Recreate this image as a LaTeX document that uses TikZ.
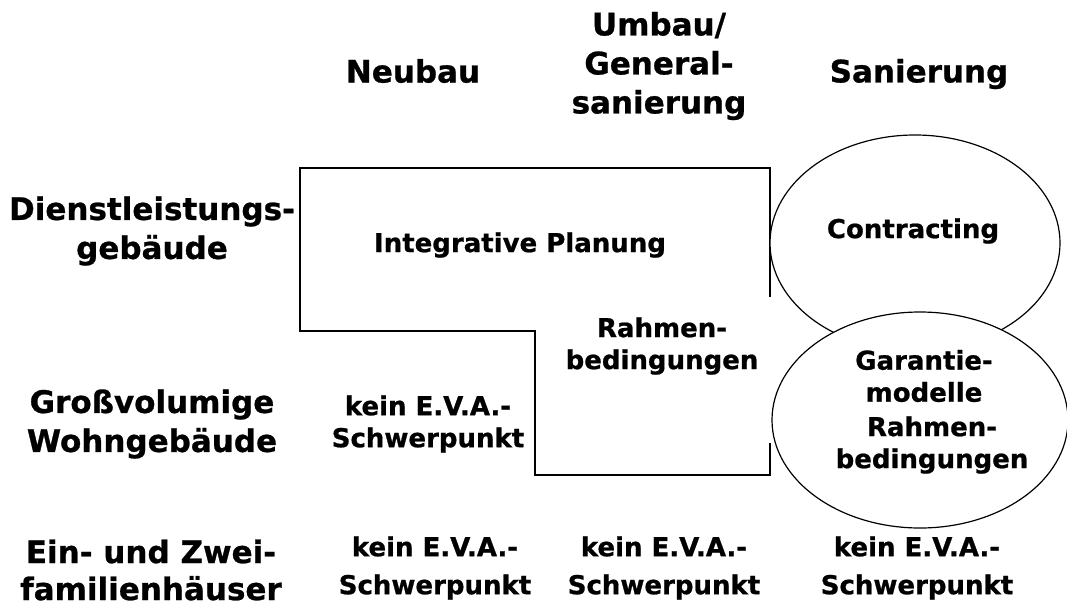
\documentclass[tikz,border=0pt]{standalone}
\usepackage{fontspec}
\setmainfont{DejaVu Sans}[BoldFeatures={FakeBold=0.8}]
\usetikzlibrary{shapes.geometric}
\begin{document}
\begin{tikzpicture}[x=1pt,y=-1pt,
  big/.style={font=\bfseries\fontsize{31}{39}\selectfont,align=center,inner sep=0pt},
  cell/.style={font=\bfseries\fontsize{26}{32}\selectfont,align=center,inner sep=0pt},
  lowcell/.style={font=\bfseries\fontsize{26}{38}\selectfont,align=center,inner sep=0pt},
  outline/.style={draw=black,line width=1.8pt},
  oval/.style={draw=black,line width=1.2pt,fill=white,ellipse,inner sep=0pt}]
\useasboundingbox[fill=white] (0,0) rectangle (1067,608);
% polygon outline
\coordinate (p1) at (770,297);
\coordinate (p2) at (770,168);
\coordinate (p3) at (300,168);
\coordinate (p4) at (300,331);
\coordinate (p5) at (535,331);
\coordinate (p6) at (535,475);
\coordinate (p7) at (770,475);
\coordinate (p8) at (770,443);
\draw[outline,line join=miter] (p1) -- (p2) -- (p3) -- (p4) -- (p5) -- (p6) -- (p7) -- (p8);
% ellipses
\node[oval,minimum width=290pt,minimum height=216pt] (e1) at (915,243) {};
\node[oval,minimum width=296pt,minimum height=216pt] (e2) at (920,420) {};
% headers
\node[big] (h1) at (413,71) {Neubau};
\node[big] (h2) at (659,66) {Umbau/\\General-\\sanierung};
\node[big] (h3) at (919,74) {Sanierung};
% row labels
\node[big] (r1) at (152,231) {Dienstleistungs-\\gebäude};
\node[big] (r2) at (152,424) {Großvolumige\\Wohngebäude};
\node[big,font=\bfseries\fontsize{31}{37}\selectfont] (r3) at (151,570) {Ein- und Zwei-\\familienhäuser};
% cells
\node[cell] (c1) at (520,245) {Integrative Planung};
\node[cell] (c2) at (662,346) {Rahmen-\\bedingungen};
\node[cell] (c3) at (428,424) {kein E.V.A.-\\Schwerpunkt};
\node[cell] (c4) at (913,231) {Contracting};
\node[cell] (c5) at (924,376) {Garantie-\\modelle};
\node[cell] (c6) at (932,445) {Rahmen-\\bedingungen};
\node[lowcell] (b1) at (435,568) {kein E.V.A.-\\Schwerpunkt};
\node[lowcell] (b2) at (664,568) {kein E.V.A.-\\Schwerpunkt};
\node[lowcell] (b3) at (917,568) {kein E.V.A.-\\Schwerpunkt};
\end{tikzpicture}
\end{document}
